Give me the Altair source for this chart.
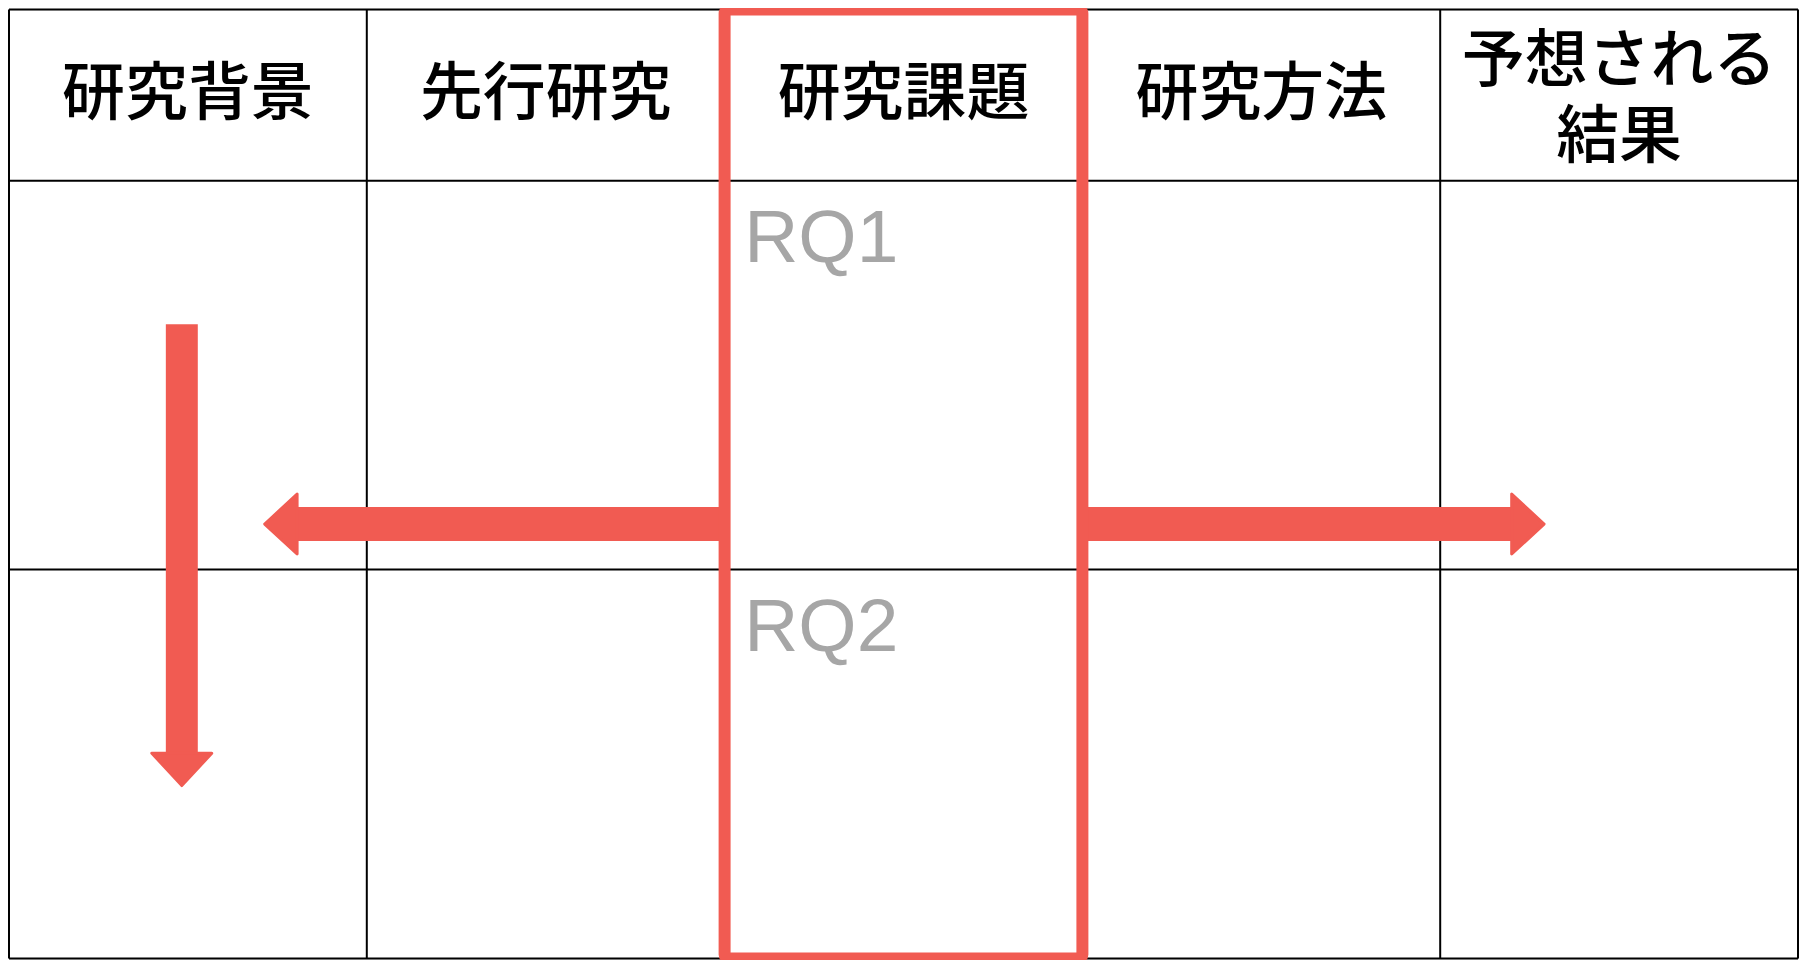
import altair as alt
import pandas as pd

# ---- data ----
headers = ["研究背景", "先行研究", "研究課題", "研究方法", "予想される\n結果"]
col_edges = [0, 1, 2, 3, 4, 5]            # table column boundaries (column units)
row_edges = [0, 0.44, 1.44, 2.44]         # header + two rows (row units)
focus_col = [2, 3]                        # highlighted column "研究課題"

rq_labels = ["RQ1", "RQ2"]
rq_x = [2.055, 2.055]
rq_y = [0.65, 1.65]

arrow_dir = ["left", "right", "down"]
arrow_x = [2.0, 3.0, 0.483]
arrow_x2 = [0.801, 4.204, 0.483]
arrow_y = [1.323, 1.323, 0.809]
arrow_y2 = [1.323, 1.323, 1.916]

RED = "#F15B52"
XMAX = col_edges[-1]
YMAX = row_edges[-1]
LINE_H = 76

xs = alt.Scale(domain=[0, XMAX], nice=False, zero=False)
ys = alt.Scale(domain=[0, YMAX], nice=False, zero=False, reverse=True)

vlines = pd.DataFrame({"x": col_edges, "y": row_edges[0], "y2": YMAX})
hlines = pd.DataFrame({"y": row_edges, "x": col_edges[0], "x2": XMAX})
head_df = pd.DataFrame({
    "label": headers,
    "x": [c + 0.5 for c in col_edges[:-1]],
    "y": (row_edges[0] + row_edges[1]) / 2,
})
rq_df = pd.DataFrame({"label": rq_labels, "x": rq_x, "y": rq_y})
arr_df = pd.DataFrame({"dir": arrow_dir, "x": arrow_x, "x2": arrow_x2,
                       "y": arrow_y, "y2": arrow_y2})
box_df = pd.DataFrame({"x": [focus_col[0]], "x2": [focus_col[1]],
                       "y": [row_edges[0]], "y2": [YMAX]})

base_x = lambda f: alt.X(f, type="quantitative", scale=xs, axis=None)
base_y = lambda f: alt.Y(f, type="quantitative", scale=ys, axis=None)

v_rules = alt.Chart(vlines).mark_rule(color="black", strokeWidth=2).encode(
    x=base_x("x"), y=base_y("y"), y2="y2")
h_rules = alt.Chart(hlines).mark_rule(color="black", strokeWidth=2).encode(
    y=base_y("y"), x=base_x("x"), x2="x2")

h_shafts = alt.Chart(arr_df).transform_filter("datum.dir != 'down'").mark_rule(
    color=RED, strokeWidth=34, strokeCap="butt").encode(
    x=base_x("x"), x2="x2", y=base_y("y"))
v_shafts = alt.Chart(arr_df).transform_filter("datum.dir == 'down'").mark_rule(
    color=RED, strokeWidth=32, strokeCap="butt").encode(
    x=base_x("x"), y=base_y("y"), y2="y2")

paths = ["M0.05,-1L0.05,1L-1.03,0Z", "M-0.05,-1L-0.05,1L1.03,0Z", "M-1,-0.05L1,-0.05L0,1.03Z"]
heads = alt.Chart(arr_df).mark_point(
    filled=True, fill=RED, stroke=RED, strokeWidth=3, strokeJoin="round",
    opacity=1, size=3600).encode(
    x=base_x("x2"), y=base_y("y2"),
    shape=alt.Shape("dir:N", scale=alt.Scale(domain=arrow_dir, range=paths), legend=None))

box = alt.Chart(box_df).mark_rect(
    fill="white", fillOpacity=0, stroke=RED, strokeWidth=12, cornerRadius=4).encode(
    x=base_x("x"), x2="x2", y=base_y("y"), y2="y2")

text_style = dict(font="Noto Sans CJK JP", fontSize=63, fontWeight=500, color="black",
                  align="center", baseline="middle", lineBreak="\n", lineHeight=LINE_H)
head_text1 = alt.Chart(head_df).transform_filter(
    "indexof(datum.label, '\\n') < 0").mark_text(**text_style).encode(
    x=base_x("x"), y=base_y("y"), text="label:N")
head_text2 = alt.Chart(head_df).transform_filter(
    "indexof(datum.label, '\\n') >= 0").mark_text(dy=-33, **text_style).encode(
    x=base_x("x"), y=base_y("y"), text="label:N")

rq_text = alt.Chart(rq_df).mark_text(
    font="Liberation Sans", fontSize=75, color="#A6A6A6", align="left",
    baseline="alphabetic").encode(
    x=base_x("x"), y=base_y("y"), text="label:N")

chart = alt.layer(
    v_rules, h_rules, h_shafts, v_shafts, heads, box, head_text1, head_text2, rq_text
).properties(
    width=1791, height=950, autosize="none",
    padding={"left": 1, "top": 1, "right": 2, "bottom": 2},
).configure_view(strokeWidth=0).configure(background="white")

chart.save("out.html", embed_options={"renderer": "svg", "actions": False})
